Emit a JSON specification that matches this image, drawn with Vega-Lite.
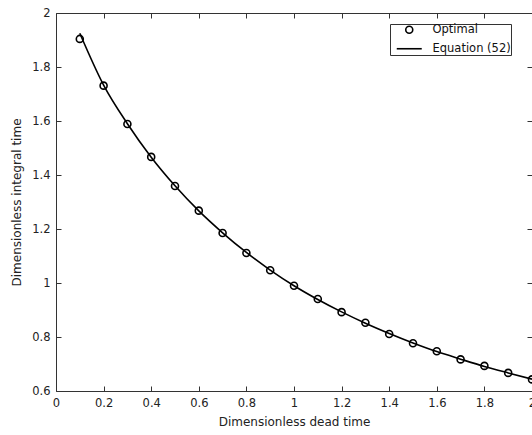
{
  "$schema": "https://vega.github.io/schema/vega-lite/v6.json",
  "width": 476,
  "height": 378,
  "autosize": {"type": "none"},
  "padding": {"left": 56, "top": 13, "right": 0, "bottom": 44},
  "background": "white",
  "config": {
    "view": {"stroke": "#333333", "strokeWidth": 1},
    "font": "DejaVu Sans",
    "axis": {
      "domain": false,
      "grid": false,
      "tickSize": -5,
      "tickColor": "#333333",
      "tickWidth": 1,
      "labelColor": "#222222",
      "labelFont": "DejaVu Sans",
      "labelFontSize": 11.5,
      "titleFont": "DejaVu Sans",
      "titleFontSize": 12,
      "titleFontWeight": "normal",
      "titleColor": "#222222",
      "labelFlush": false,
      "labelOverlap": false
    }
  },
  "datasets": {
    "optimal": [
      {"x": 0.1, "y": 1.904, "series": "Optimal"},
      {"x": 0.2, "y": 1.731, "series": "Optimal"},
      {"x": 0.3, "y": 1.589, "series": "Optimal"},
      {"x": 0.4, "y": 1.467, "series": "Optimal"},
      {"x": 0.5, "y": 1.359, "series": "Optimal"},
      {"x": 0.6, "y": 1.268, "series": "Optimal"},
      {"x": 0.7, "y": 1.185, "series": "Optimal"},
      {"x": 0.8, "y": 1.111, "series": "Optimal"},
      {"x": 0.9, "y": 1.047, "series": "Optimal"},
      {"x": 1.0, "y": 0.990, "series": "Optimal"},
      {"x": 1.1, "y": 0.941, "series": "Optimal"},
      {"x": 1.2, "y": 0.892, "series": "Optimal"},
      {"x": 1.3, "y": 0.853, "series": "Optimal"},
      {"x": 1.4, "y": 0.811, "series": "Optimal"},
      {"x": 1.5, "y": 0.777, "series": "Optimal"},
      {"x": 1.6, "y": 0.747, "series": "Optimal"},
      {"x": 1.7, "y": 0.717, "series": "Optimal"},
      {"x": 1.8, "y": 0.693, "series": "Optimal"},
      {"x": 1.9, "y": 0.667, "series": "Optimal"},
      {"x": 2.0, "y": 0.643, "series": "Optimal"}
    ],
    "equation": [
      {"x": 0.1, "y": 1.925},
      {"x": 0.2, "y": 1.733},
      {"x": 0.3, "y": 1.590},
      {"x": 0.4, "y": 1.466},
      {"x": 0.5, "y": 1.360},
      {"x": 0.6, "y": 1.267},
      {"x": 0.7, "y": 1.186},
      {"x": 0.8, "y": 1.113},
      {"x": 0.9, "y": 1.048},
      {"x": 1.0, "y": 0.990},
      {"x": 1.1, "y": 0.939},
      {"x": 1.2, "y": 0.893},
      {"x": 1.3, "y": 0.851},
      {"x": 1.4, "y": 0.813},
      {"x": 1.5, "y": 0.778},
      {"x": 1.6, "y": 0.746},
      {"x": 1.7, "y": 0.718},
      {"x": 1.8, "y": 0.691},
      {"x": 1.9, "y": 0.667},
      {"x": 2.0, "y": 0.644}
    ]
  },
  "layer": [
    {
      "data": {"name": "equation"},
      "mark": {"type": "line", "color": "black", "strokeWidth": 1.6, "interpolate": "monotone", "clip": true},
      "encoding": {
        "x": {"field": "x", "type": "quantitative", "scale": {"domain": [0, 2], "nice": false, "zero": false},
          "axis": {"orient": "top", "labels": false, "title": null, "values": [0, 0.2, 0.4, 0.6, 0.8, 1, 1.2, 1.4, 1.6, 1.8, 2]}},
        "y": {"field": "y", "type": "quantitative", "scale": {"domain": [0.6, 2], "nice": false, "zero": false},
          "axis": {"orient": "right", "labels": false, "title": null, "values": [0.6, 0.8, 1, 1.2, 1.4, 1.6, 1.8, 2]}}
      }
    },
    {
      "data": {"name": "optimal"},
      "mark": {"type": "point", "filled": false, "stroke": "black", "strokeWidth": 1.6, "size": 64, "opacity": 1},
      "encoding": {
        "x": {"field": "x", "type": "quantitative", "scale": {"domain": [0, 2], "nice": false, "zero": false},
          "axis": {"orient": "bottom", "title": "Dimensionless dead time", "format": "~g", "labelPadding": 11, "titlePadding": 8,
            "values": [0, 0.2, 0.4, 0.6, 0.8, 1, 1.2, 1.4, 1.6, 1.8, 2]}},
        "y": {"field": "y", "type": "quantitative", "scale": {"domain": [0.6, 2], "nice": false, "zero": false},
          "axis": {"orient": "left", "title": "Dimensionless integral time", "format": "~g", "labelPadding": 11, "titlePadding": 8,
            "values": [0.6, 0.8, 1, 1.2, 1.4, 1.6, 1.8, 2]}},
        "shape": {"field": "series", "type": "nominal",
          "scale": {"domain": ["Optimal", "Equation (52)"], "range": ["M-0.875,0A0.875,0.875 0 1,0 0.875,0A0.875,0.875 0 1,0 -0.875,0Z", "M-3.125,0L3.125,0"]},
          "legend": {"title": null, "orient": "none", "legendX": 334, "legendY": 11,
            "strokeColor": "#333333", "fillColor": "white", "padding": 0,
            "symbolSize": 64, "symbolStrokeColor": "black", "symbolStrokeWidth": 1.6, "symbolFillColor": "transparent",
            "symbolOffset": 13.5, "labelOffset": 17.5, "rowPadding": 5,
            "labelExpr": "datum.label + '\u00a0\u00a0\u00a0\u00a0\u00a0'",
            "labelFont": "DejaVu Sans", "labelFontSize": 11.5, "labelColor": "#111111"}}
      }
    }
  ],
  "resolve": {"scale": {"x": "independent", "y": "independent"}, "axis": {"x": "independent", "y": "independent"}}
}
